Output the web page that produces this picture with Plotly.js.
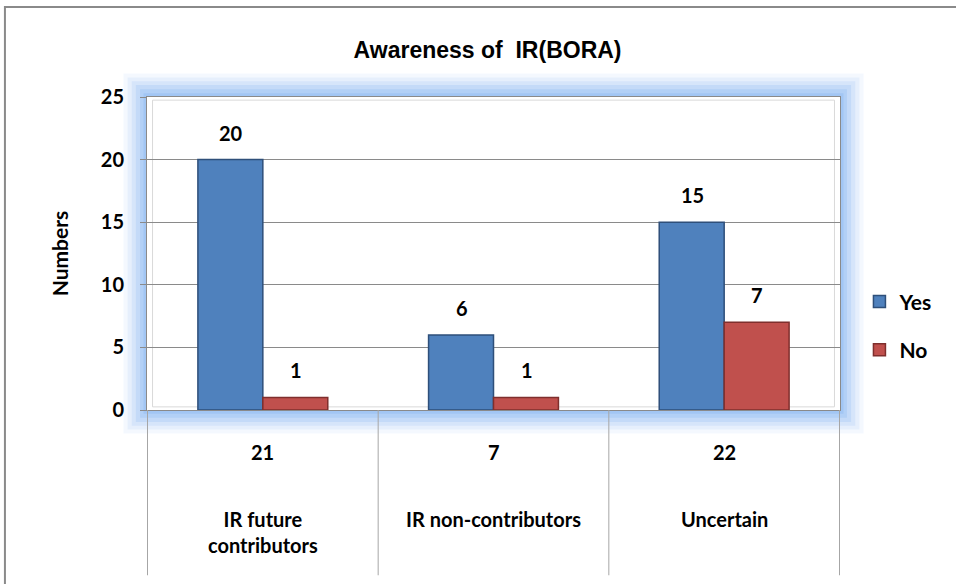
<!DOCTYPE html>
<html>
<head>
<meta charset="utf-8">
<script src="https://cdn.plot.ly/plotly-3.0.1.min.js"></script>
<style>html,body{margin:0;padding:0;background:#fff;}#chart{width:956px;height:584px;}</style>
</head>
<body>
<div id="chart"></div>
<script>
const categories = ["IR future contributors", "IR non-contributors", "Uncertain"];
const categoryLabels = ["IR future<br>contributors", "IR non-contributors", "Uncertain"];
const yesValues = [20, 6, 15];
const noValues = [1, 1, 7];
const totals = [21, 7, 22];
const seriesNames = ["Yes", "No"];

const FONT = "Lato, 'Open Sans', 'Liberation Sans', sans-serif";

const traces = [
  {
    type: "bar", name: seriesNames[0], x: categories, y: yesValues, legendgroup: "a",
    marker: {color: "#4F81BD", line: {color: "#2E4F7A", width: 1.5}}
  },
  {
    type: "bar", name: seriesNames[1], x: categories, y: noValues, legendgroup: "b",
    marker: {color: "#C0504D", line: {color: "#7F2F2D", width: 1.5}}
  }
];

const shapes = [];
shapes.push({type: "rect", xref: "paper", yref: "paper", x0: -0.205, x1: 1.2, y0: -0.6, y1: 1.2875,
  line: {color: "#8a8a8a", width: 2}, fillcolor: "rgba(0,0,0,0)", layer: "below"});
const glowSteps = [
  [0.034, 0.075, 0.09],
  [0.028, 0.062, 0.12],
  [0.022, 0.050, 0.16],
  [0.016, 0.038, 0.21],
  [0.010, 0.025, 0.27],
  [0.005, 0.012, 0.33],
];
glowSteps.forEach(g => {
  shapes.push({type: "rect", xref: "paper", yref: "paper", x0: -g[0], x1: 1 + g[0], y0: -g[1], y1: 1 + g[1],
    line: {width: 0}, fillcolor: "rgba(130,180,240," + g[2] + ")", layer: "below"});
});
shapes.push({type: "rect", xref: "paper", yref: "paper", x0: 0, x1: 1, y0: 0, y1: 1,
  line: {width: 0}, fillcolor: "#ffffff", layer: "below"});
shapes.push({type: "rect", xref: "paper", yref: "paper", x0: 0.008, x1: 0.992, y0: 0.01, y1: 0.99,
  line: {color: "#d9d9d9", width: 1}, fillcolor: "rgba(0,0,0,0)", layer: "below"});
for (let i = 0; i <= categories.length; i++) {
  shapes.push({type: "line", xref: "x", yref: "paper", x0: i - 0.5, x1: i - 0.5, y0: 0, y1: -0.528,
    line: {color: "#a6a6a6", width: 1}});
}

const annotations = [];
const labelFont = {family: FONT, size: 20, color: "#000", weight: "bold"};
categories.forEach((c, i) => {
  annotations.push({xref: "x", yref: "y", x: c, y: yesValues[i], text: String(yesValues[i]), showarrow: false,
    xshift: -32, yshift: 27, yanchor: "middle", font: labelFont});
  annotations.push({xref: "x", yref: "y", x: c, y: noValues[i], text: String(noValues[i]), showarrow: false,
    xshift: 33, yshift: 27, yanchor: "middle", font: labelFont});
  annotations.push({xref: "x", yref: "paper", x: c, y: -0.135, text: String(totals[i]), showarrow: false,
    font: labelFont, yanchor: "middle"});
  annotations.push({xref: "x", yref: "paper", x: c, y: i === 0 ? -0.39 : -0.349, text: categoryLabels[i], showarrow: false,
    font: labelFont, yanchor: "middle"});
});

const layout = {
  width: 956, height: 584,
  margin: {l: 147, r: 116, t: 97, b: 174},
  paper_bgcolor: "#ffffff", plot_bgcolor: "rgba(0,0,0,0)",
  title: {text: "Awareness of  IR(BORA)", x: 0.51, xanchor: "center", y: 0.915, yanchor: "middle",
    font: {family: "'Liberation Sans', Arial, sans-serif", size: 23, color: "#000", weight: "bold"}},
  barmode: "group", bargap: 0.437, bargroupgap: 0,
  showlegend: true,
  legend: {xref: "container", yref: "container", x: 0.899, xanchor: "left", y: 0.442, yanchor: "middle",
    font: {family: FONT, size: 21, color: "#000", weight: "bold"},
    tracegroupgap: 18, itemwidth: 30, bgcolor: "rgba(0,0,0,0)"},
  xaxis: {type: "category", showticklabels: false, showgrid: false, zeroline: false,
    showline: true, linecolor: "#8a8a8a", linewidth: 1, mirror: true, ticks: ""},
  yaxis: {range: [0, 25], dtick: 5, tick0: 0, showgrid: true, gridcolor: "#8a8a8a", gridwidth: 1,
    zeroline: false, showline: true, linecolor: "#8a8a8a", mirror: true, ticks: "outside", ticklen: 6, tickcolor: "#8a8a8a",
    ticklabelstandoff: 12,
    tickfont: {family: FONT, size: 20, color: "#000", weight: "bold"},
    title: {text: "Numbers", standoff: 26, font: {family: FONT, size: 21, color: "#000", weight: "bold"}}},
  shapes: shapes, annotations: annotations,
  font: {family: FONT}
};

Plotly.newPlot("chart", traces, layout, {displayModeBar: false, staticPlot: true});
</script>
</body>
</html>
